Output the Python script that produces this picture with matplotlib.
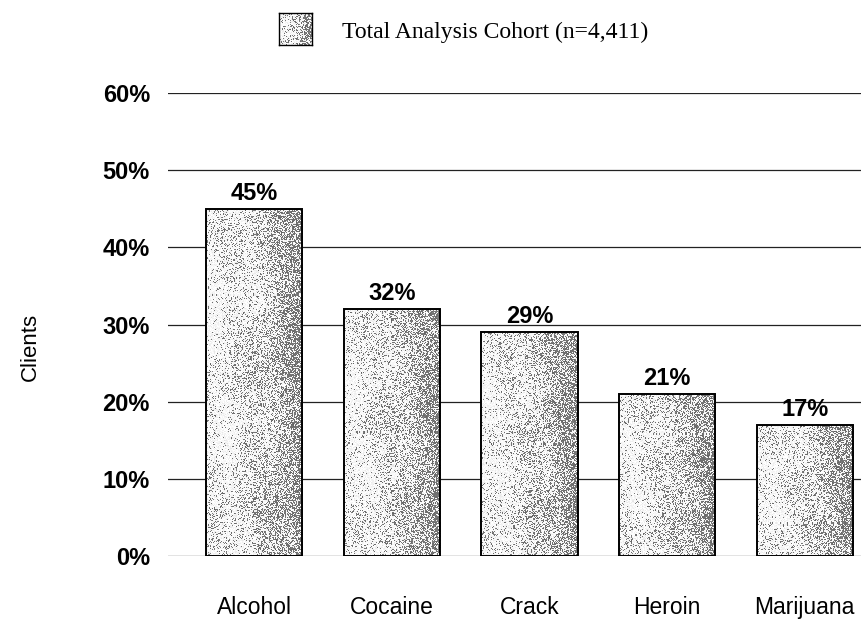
import numpy as np
import matplotlib
matplotlib.use("Agg")
import matplotlib.pyplot as plt

categories = ["Alcohol", "Cocaine", "Crack", "Heroin", "Marijuana"]
values = [45, 32, 29, 21, 17]
yticks = [0, 10, 20, 30, 40, 50, 60]
ytick_labels = ["0%", "10%", "20%", "30%", "40%", "50%", "60%"]
legend_label = "Total Analysis Cohort (n=4,411)"
ylabel = "Clients"

rng = np.random.default_rng(7)

def texture(h, w):
    # speckled halftone-like texture: light on the left, darker on the right
    xs = np.linspace(0, 1, w)[None, :]
    ys = np.linspace(0, 1, h)[:, None]
    blotch = 0.5 + 0.5 * np.sin(ys * 11 + xs * 5) * np.cos(ys * 5 - xs * 7)
    p = 0.04 + 0.55 * xs ** 2.2 + 0.18 * blotch
    dark = rng.random((h, w)) < p
    img = np.where(dark, 0.45, 0.97) + rng.normal(0, 0.03, (h, w))
    return np.clip(img, 0, 1)

W, H = 862, 624
fig = plt.figure(figsize=(W / 100, H / 100), dpi=100)
ax_left, ax_right, ax_top, ax_bottom = 168, 862, 93, 556
ax = fig.add_axes([ax_left / W, 1 - ax_bottom / H,
                   (ax_right - ax_left) / W, (ax_bottom - ax_top) / H])

x = np.arange(len(categories))
width = 0.70
bars = ax.bar(x, values, width=width, facecolor="none", edgecolor="black",
              linewidth=1.4, zorder=3)
for b in bars:
    x0, y0 = b.get_x(), b.get_y()
    w, h = b.get_width(), b.get_height()
    npx_h = max(int(h * 7.7), 4)
    im = ax.imshow(texture(npx_h, 96), cmap="gray", vmin=0, vmax=1,
                   extent=[x0, x0 + w, y0, y0 + h], aspect="auto",
                   interpolation="nearest", zorder=2, origin="lower")
    im.set_clip_path(b)

for xi, v in zip(x, values):
    ax.text(xi, v + 0.5, f"{v}%", ha="center", va="bottom", fontsize=17,
            family="Liberation Sans", fontweight="bold")

# bar centres at 254 + 137.7*i px  -> xlim in data units
ax.set_xlim((ax_left - 254) / 137.7, (ax_right - 254) / 137.7)
ax.set_ylim(0, 60)
ax.set_yticks(yticks)
ax.set_yticklabels(ytick_labels, fontsize=17, family="Liberation Sans",
                   fontweight="bold")
ax.set_xticks(x)
ax.set_xticklabels(categories, fontsize=16.5, family="Liberation Sans")
ax.tick_params(axis="y", length=0, pad=13)
ax.tick_params(axis="x", length=0, pad=29)
ax.yaxis.grid(True, color="#222222", linewidth=0.9, zorder=1)
ax.set_axisbelow(True)
for s in ax.spines.values():
    s.set_visible(False)
fig.text(30 / W, 1 - 347 / H, ylabel, rotation=90, ha="center", va="center",
         fontsize=16, family="Liberation Sans")

# legend
lax = fig.add_axes([279 / W, 1 - 45 / H, 33 / W, 32 / H])
lax.imshow(texture(32, 33), cmap="gray", vmin=0, vmax=1, aspect="auto",
           interpolation="nearest")
lax.set_xticks([]); lax.set_yticks([])
for s in lax.spines.values():
    s.set_linewidth(1.0)
fig.text(342 / W, 1 - 38 / H, legend_label, ha="left", va="baseline",
         fontsize=17, family="Liberation Serif")

fig.savefig("out.png", dpi=100)
